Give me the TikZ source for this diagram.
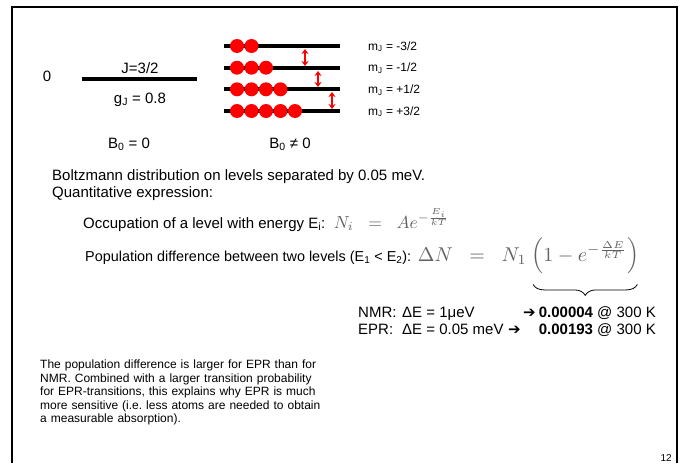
\documentclass[tikz,border=0pt]{standalone}
\usepackage[no-math]{fontspec}
\setmainfont{Liberation Sans}
\newfontfamily\dejavu{DejaVu Sans}
\usetikzlibrary{arrows.meta,decorations.pathreplacing}
\frenchspacing
\begin{document}
\begin{tikzpicture}[x=1pt,y=-1pt,
  txt/.style={font=\fontsize{15}{18}\selectfont, inner sep=0pt},
  txtb/.style={font=\fontsize{14.4}{18}\selectfont, inner sep=0pt},
  small/.style={font=\fontsize{12}{13}\selectfont, inner sep=0pt},
  lvl/.style={line width=3.7pt},
  dot/.style={circle, fill=red, minimum size=14pt, inner sep=0pt},
  trans/.style={red, line width=1.6pt, {Stealth[length=5pt,width=7pt]}-{Stealth[length=5pt,width=7pt]}},
  eq/.style={inner sep=0pt, text=black!62},
  frame/.style={line width=2.5pt}]
\useasboundingbox (0,0) rectangle (685,463);
% frame
\coordinate (f1) at (12,463);
\coordinate (f2) at (12,7);
\coordinate (f3) at (677,7);
\coordinate (f4) at (677,463);
\draw[frame] (f1) -- (f2) -- (f3) -- (f4);

% left: B0 = 0
\node[txt] (zero) at (47,76) {0};
\coordinate (j1) at (82,79);
\coordinate (j2) at (197,79);
\draw[lvl] (j1) -- (j2);
\node[txt, anchor=base] (J) at (140,73) {J=3/2};
\node[txt, anchor=base] (gJ) at (140,103) {g\textsubscript{J} = 0.8};
\node[txt, anchor=base] (B0) at (129,148) {B\textsubscript{0} = 0};
\node[txt, anchor=base] (B1) at (290,148) {B\textsubscript{0} ≠ 0};

% right: split levels
\foreach \i/\y/\n in {1/46/2, 2/67.7/3, 3/89.3/4, 4/111/5} {
  \coordinate (la\i) at (224,\y);
  \coordinate (lb\i) at (340,\y);
  \draw[lvl] (la\i) -- (lb\i);
  \foreach \k in {1,...,\n} {
    \node[dot] (d\i\k) at ({237+14.5*(\k-1)},\y) {};
  }
}
\node[small, anchor=base west] (m1) at (368,50) {m\textsubscript{J} = -3/2};
\node[small, anchor=base west] (m2) at (368,71.7) {m\textsubscript{J} = -1/2};
\node[small, anchor=base west] (m3) at (368,93.3) {m\textsubscript{J} = +1/2};
\node[small, anchor=base west] (m4) at (368,115) {m\textsubscript{J} = +3/2};

\coordinate (a1t) at (305,49);  \coordinate (a1b) at (305,66);
\coordinate (a2t) at (318,71);  \coordinate (a2b) at (318,87);
\coordinate (a3t) at (332,92);  \coordinate (a3b) at (332,109);
\draw[trans] (a1t) -- (a1b);
\draw[trans] (a2t) -- (a2b);
\draw[trans] (a3t) -- (a3b);

% text
\node[txt, anchor=base west] (t1) at (52,180) {Boltzmann distribution on levels separated by 0.05 meV.};
\node[txt, anchor=base west] (t2) at (52,197) {Quantitative expression:};
\node[txt, anchor=base west] (t3) at (83,228) {Occupation of a level with energy E\textsubscript{i}:};
\node[eq, anchor=base west, scale=1.75] (e1) at ([xshift=8pt]t3.base east)
  {$N_i\;\;=\;\;Ae^{-\frac{E_i}{kT}}$};
\node[txtb, anchor=base west] (t4) at (85,261) {Population difference between two levels (E\textsubscript{1} < E\textsubscript{2}):};
\node[eq, anchor=base west, scale=2.0] (e2a) at ([xshift=6pt]t4.base east)
  {$\Delta N\;\;=\;\;N_1$};
\node[eq, anchor=base west, scale=2.0] (e2b) at ([xshift=4pt]e2a.base east)
  {$\left(1-e^{-\frac{\Delta E}{kT}}\right)$};

\coordinate (br1) at ([xshift=-2pt,yshift=-10pt]e2b.south east);
\coordinate (br2) at ([xshift=2pt,yshift=-10pt]e2b.south west);
\draw[decorate, decoration={brace, amplitude=11pt}, line width=0.8pt] (br1) -- (br2);

\node[txt, anchor=base west] (nmr) at (358,317) {NMR:};
\node[txt, anchor=base west] (nmrE) at (402,317) {ΔE = 1μeV};
\node[txt, anchor=base west] (nmrA) at (523,317) {\dejavu\bfseries ➔};
\node[txt, anchor=base east] (nmrR) at (656,317) {\textbf{0.00004} @ 300 K};
\node[txt, anchor=base west] (epr) at (358,334) {EPR:};
\node[txt, anchor=base west] (eprE) at (402,334) {ΔE = 0.05 meV};
\node[txt, anchor=base west] (eprA) at (508,334) {\dejavu\bfseries ➔};
\node[txt, anchor=base east] (eprR) at (656,334) {\textbf{0.00193} @ 300 K};

\node[anchor=north west, inner sep=0pt, text width=286pt, align=left,
  font=\fontsize{12}{13.4}\selectfont] (para) at (40,360)
  {The population difference is larger for EPR than for NMR. Combined with a larger transition probability for EPR-transitions, this explains why EPR is much more sensitive (i.e. less atoms are needed to obtain a measurable absorption).};

\node[anchor=base east, inner sep=0pt, font=\fontsize{10}{12}\selectfont] (pg) at (672,461) {12};
\end{tikzpicture}
\end{document}
